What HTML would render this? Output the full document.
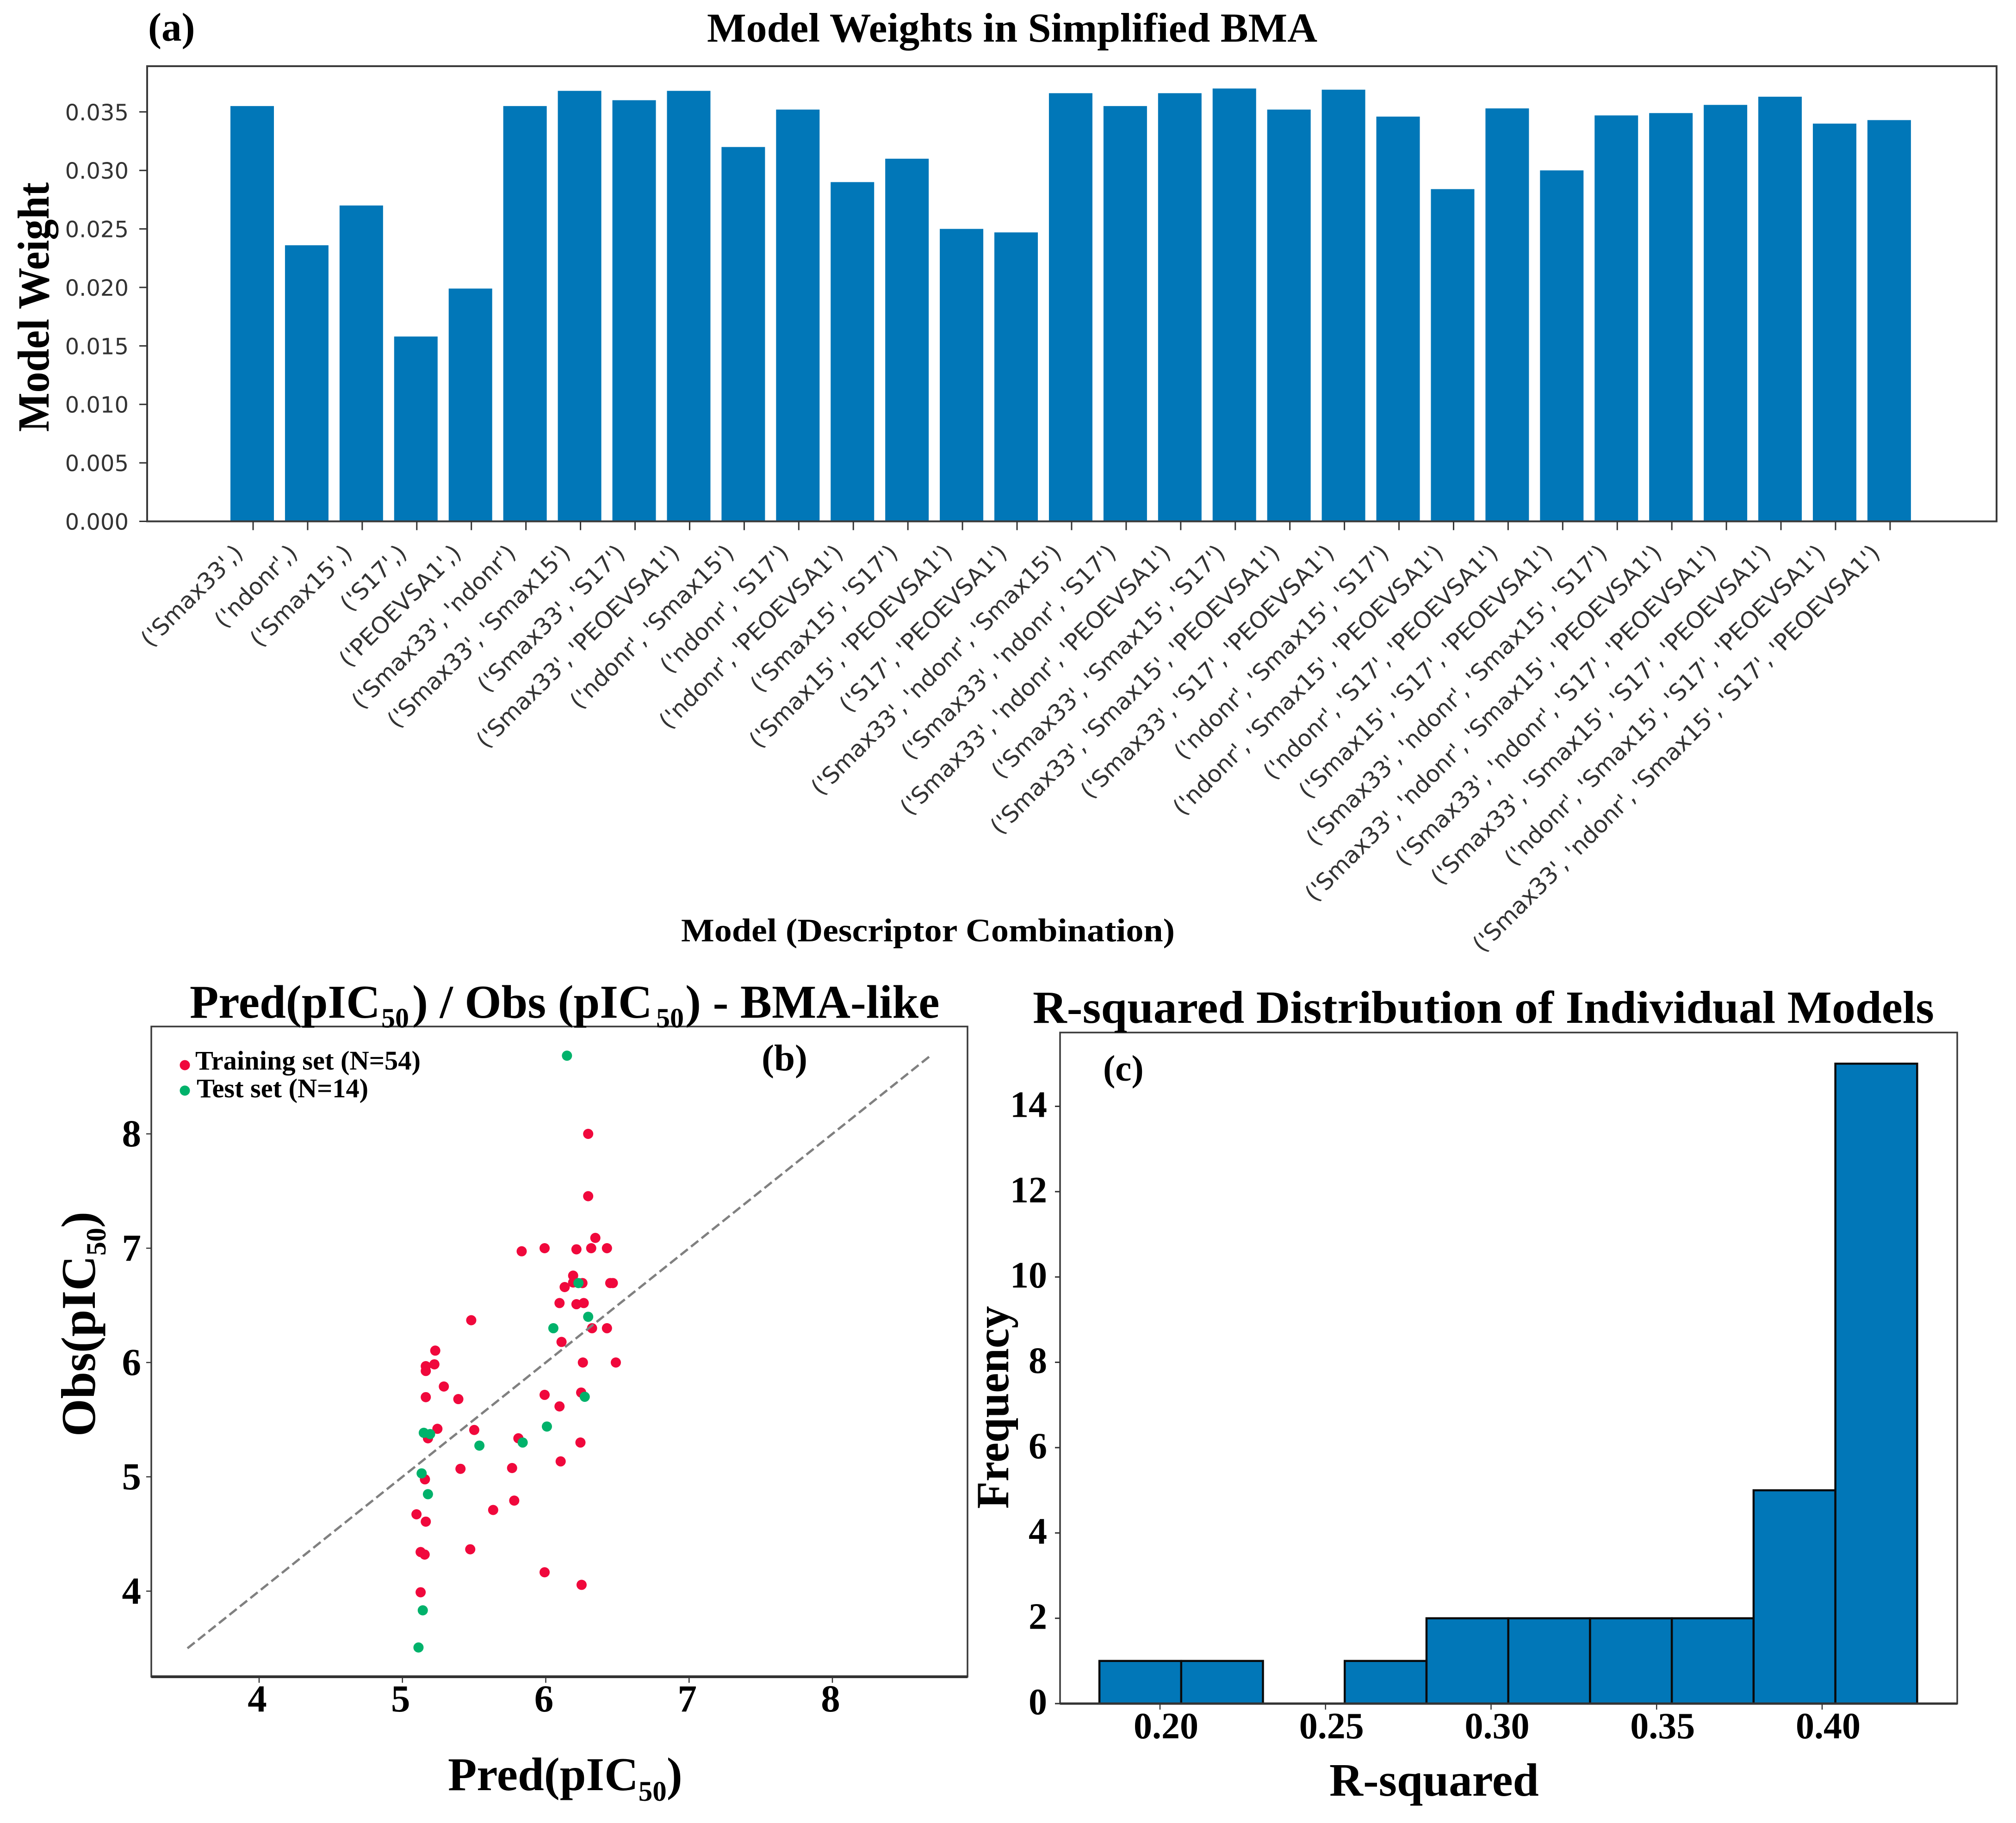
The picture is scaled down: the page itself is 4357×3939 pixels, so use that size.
<!DOCTYPE html>
<html lang="en">
<head>
<meta charset="utf-8">
<title>BMA model figure</title>
<style>
html,body{margin:0;padding:0;background:#fff}
svg{display:block}
.serif{font-family:"Liberation Serif",serif;font-weight:bold;fill:#000}
.dejavu{font-family:"DejaVu Sans",sans-serif;fill:#333}
</style>
</head>
<body>
<svg id="fig" xmlns="http://www.w3.org/2000/svg" width="4357" height="3939" viewBox="0 0 4357 3939">
  <rect x="0" y="0" width="4357" height="3939" fill="#fff"/>

  <g id="panelA"></g>
  <g id="panelB"></g>
  <g id="panelC"></g>

  <text class="serif" x="320" y="88" font-size="87">(a)</text>
  <text class="serif" x="1528" y="90" font-size="89" textLength="1319" lengthAdjust="spacingAndGlyphs">Model Weights in Simplified BMA</text>
  <text class="serif" transform="translate(105,933) rotate(-90)" font-size="96" textLength="539" lengthAdjust="spacingAndGlyphs">Model Weight</text>
  <text class="serif" x="1472" y="2034" font-size="71" textLength="1067" lengthAdjust="spacingAndGlyphs">Model (Descriptor Combination)</text>

  <text class="serif" y="2199" font-size="102"><tspan x="410">Pred(pIC</tspan><tspan x="824" y="2220" font-size="60">50</tspan><tspan x="891" y="2199">) / Obs (pIC</tspan><tspan x="1418" y="2220" font-size="60">50</tspan><tspan x="1481" y="2199">) - BMA-like</tspan></text>
  <text class="serif" x="1646" y="2313" font-size="81">(b)</text>
  <text class="serif" transform="translate(205,3104) rotate(-90)" font-size="105">Obs(pIC<tspan dy="23" font-size="60">50</tspan><tspan dy="-23">)</tspan></text>
  <text class="serif" x="968" y="3868" font-size="102">Pred(pIC<tspan dy="23" font-size="61">50</tspan><tspan dy="-23">)</tspan></text>
  <circle cx="399.5" cy="2301.5" r="11" fill="#f0083c"/>
  <text class="serif" x="422" y="2311" font-size="58" textLength="487" lengthAdjust="spacingAndGlyphs">Training set (N=54)</text>
  <circle cx="399.5" cy="2356.5" r="11" fill="#00b26b"/>
  <text class="serif" x="425" y="2371" font-size="58" textLength="371" lengthAdjust="spacingAndGlyphs">Test set (N=14)</text>

  <text class="serif" x="2232" y="2210" font-size="100" textLength="1948" lengthAdjust="spacingAndGlyphs">R-squared Distribution of Individual Models</text>
  <text class="serif" x="2384" y="2335" font-size="79">(c)</text>
  <text class="serif" transform="translate(2179,3260) rotate(-90)" font-size="100" textLength="438" lengthAdjust="spacingAndGlyphs">Frequency</text>
  <text class="serif" x="2873" y="3880" font-size="101">R-squared</text>
</svg>

<script>
// ---------- Panel (a) data ----------
var modelLabels = [
"('Smax33',)","('ndonr',)","('Smax15',)","('S17',)","('PEOEVSA1',)",
"('Smax33', 'ndonr')","('Smax33', 'Smax15')","('Smax33', 'S17')","('Smax33', 'PEOEVSA1')",
"('ndonr', 'Smax15')","('ndonr', 'S17')","('ndonr', 'PEOEVSA1')","('Smax15', 'S17')",
"('Smax15', 'PEOEVSA1')","('S17', 'PEOEVSA1')","('Smax33', 'ndonr', 'Smax15')",
"('Smax33', 'ndonr', 'S17')","('Smax33', 'ndonr', 'PEOEVSA1')","('Smax33', 'Smax15', 'S17')",
"('Smax33', 'Smax15', 'PEOEVSA1')","('Smax33', 'S17', 'PEOEVSA1')","('ndonr', 'Smax15', 'S17')",
"('ndonr', 'Smax15', 'PEOEVSA1')","('ndonr', 'S17', 'PEOEVSA1')","('Smax15', 'S17', 'PEOEVSA1')",
"('Smax33', 'ndonr', 'Smax15', 'S17')","('Smax33', 'ndonr', 'Smax15', 'PEOEVSA1')",
"('Smax33', 'ndonr', 'S17', 'PEOEVSA1')","('Smax33', 'Smax15', 'S17', 'PEOEVSA1')",
"('ndonr', 'Smax15', 'S17', 'PEOEVSA1')","('Smax33', 'ndonr', 'Smax15', 'S17', 'PEOEVSA1')"];
var modelWeights = [0.0355,0.0236,0.0270,0.0158,0.0199,0.0355,0.0368,0.0360,0.0368,0.0320,0.0352,
0.0290,0.0310,0.0250,0.0247,0.0366,0.0355,0.0366,0.0370,0.0352,0.0369,0.0346,0.0284,0.0353,
0.0300,0.0347,0.0349,0.0356,0.0363,0.0340,0.0343];
var weightTicks = ["0.000","0.005","0.010","0.015","0.020","0.025","0.030","0.035"];

// ---------- Panel (b) data ----------
var trainPred = [6.296,6.296,6.346,5.832,5.992,6.214,6.317,6.427,6.191,6.191,6.256,6.132,6.45,6.468,6.096,6.214,6.265,6.323,6.427,6.11,5.48,5.229,6.259,6.489,5.223,5.163,5.163,5.289,5.163,5.39,5.992,6.096,6.247,5.244,5.501,5.178,5.809,6.242,6.104,5.405,5.765,5.157,5.78,5.633,5.098,5.163,5.127,5.155,5.473,5.992,6.25,5.127];
var trainObs = [8.00,7.455,7.09,6.973,7.00,6.99,7.00,7.00,6.76,6.70,6.695,6.66,6.695,6.695,6.52,6.51,6.52,6.30,6.30,6.18,6.37,6.104,6.00,6.00,5.984,5.968,5.926,5.79,5.697,5.68,5.717,5.616,5.737,5.42,5.41,5.337,5.337,5.30,5.135,5.07,5.077,4.978,4.792,4.71,4.672,4.608,4.342,4.32,4.366,4.165,4.055,3.99];
var testPred = [6.148,6.228,6.296,6.053,6.272,6.008,5.149,5.193,5.839,5.537,5.134,5.178,5.142,5.112];
var testObs = [8.684,6.695,6.40,6.30,5.70,5.44,5.385,5.374,5.30,5.273,5.03,4.848,3.832,3.507];
var identityRange = [3.5,8.68];
var predTicks = ["4","5","6","7","8"];
var obsTicks = ["4","5","6","7","8"];

// ---------- Panel (c) data ----------
var histCounts = [1,1,0,1,2,2,2,2,5,15];
var histRange = [0.1817,0.4287];
var r2Ticks = ["0.20","0.25","0.30","0.35","0.40"];
var freqTicks = ["0","2","4","6","8","10","12","14"];

var NS = 'http://www.w3.org/2000/svg';
function mk(tag, geom, parent, txt){
  var el = document.createElementNS(NS, tag);
  for (var k in geom) el.setAttribute(k, geom[k]);
  if (txt !== undefined) el.textContent = txt;
  parent.appendChild(el);
  return el;
}

// ---------- Panel (a) ----------
(function(){
  var g = document.getElementById('panelA');
  var box = {l:318, r:4315, t:143, b:1126.5};
  function xA(i){ return 545 + i*117.93; }
  function yA(v){ return box.b - v*25277; }
  var barW = 94;
  modelWeights.forEach(function(v,i){
    var el = mk('rect',{x:xA(i)-barW/2,y:yA(v),width:barW,height:box.b-yA(v),fill:'#0177b8'},g);
    
    
  });
  var frame = mk('rect',{x:box.l,y:box.t,width:box.r-box.l,height:box.b-box.t,fill:'none',stroke:'#3a3a3a','stroke-width':4},g);
  
  
  weightTicks.forEach(function(t){
    var y = yA(parseFloat(t));
    var tk = mk('line',{x1:box.l-17,x2:box.l,y1:y,y2:y,stroke:'#333','stroke-width':3},g);
    
    
    var lb = mk('text',{x:278,y:y+18,'text-anchor':'end','font-size':48,'class':'dejavu'},g,t);
    
    
  });
  modelLabels.forEach(function(t,i){
    var x = xA(i);
    var tk = mk('line',{x1:x+2,x2:x+2,y1:box.b,y2:box.b+19,stroke:'#333','stroke-width':3},g);
    
    
    var ax = x-17, ay = 1198;
    var lb = mk('text',{x:ax,y:ay,'text-anchor':'end','font-size':50,'class':'dejavu',transform:'rotate(-45 '+ax+' '+ay+')'},g,t);
    
    
  });
})();

// ---------- Panel (b) ----------
(function(){
  var g = document.getElementById('panelB');
  var box = {l:327, r:2091, t:2218, b:3623};
  function xB(v){ return 560 + (v-4)*309.75; }
  function yB(v){ return 2450 + (8-v)*247; }
  var frame = mk('rect',{x:box.l,y:box.t,width:box.r-box.l,height:box.b-box.t,fill:'#fff',stroke:'#3a3a3a','stroke-width':3.5},g);
  
  
  var base = mk('line',{x1:box.l,x2:box.r,y1:box.b,y2:box.b,stroke:'#333','stroke-width':6},g);
  
  
  trainPred.forEach(function(v,i){
    var c = mk('circle',{cx:xB(v),cy:yB(trainObs[i]),r:11,fill:'#f0083c'},g);
    
    
  });
  var dl = mk('line',{x1:xB(identityRange[0]),y1:yB(identityRange[0]),x2:xB(identityRange[1]),y2:yB(identityRange[1]),stroke:'#808080','stroke-width':5,'stroke-dasharray':'20 9'},g);
  
  
  testPred.forEach(function(v,i){
    var c = mk('circle',{cx:xB(v),cy:yB(testObs[i]),r:11,fill:'#00b26b'},g);
    
    
  });
  predTicks.forEach(function(t){
    var x = xB(parseFloat(t));
    var tk = mk('line',{x1:x,x2:x,y1:box.b,y2:box.b+13,stroke:'#333','stroke-width':2.5},g);
    
    
    var lb = mk('text',{x:x-4,y:3698,'text-anchor':'middle','font-size':83,'class':'serif'},g,t);
    
    
  });
  obsTicks.forEach(function(t){
    var y = yB(parseFloat(t));
    var tk = mk('line',{x1:box.l-11,x2:box.l,y1:y,y2:y,stroke:'#333','stroke-width':2.5},g);
    
    
    var lb = mk('text',{x:305,y:y+27,'text-anchor':'end','font-size':83,'class':'serif'},g,t);
    
    
  });
})();

// ---------- Panel (c) ----------
(function(){
  var g = document.getElementById('panelC');
  var box = {l:2291, r:4230, t:2231, b:3681};
  function xC(v){ return 2507 + (v-0.2)*7155; }
  function yC(v){ return box.b - v*92.18; }
  var frame = mk('rect',{x:box.l,y:box.t,width:box.r-box.l,height:box.b-box.t,fill:'#fff',stroke:'#3a3a3a','stroke-width':3.5},g);
  
  
  var w = (histRange[1]-histRange[0])/histCounts.length;
  histCounts.forEach(function(c,i){
    if (c === 0) return;
    var x0 = xC(histRange[0]+i*w), x1 = xC(histRange[0]+(i+1)*w);
    var r = mk('rect',{x:x0,y:yC(c),width:x1-x0,height:box.b-yC(c),fill:'#0177b8',stroke:'#0a0a0a','stroke-width':4.5},g);
    
    
  });
  var base = mk('line',{x1:box.l,x2:box.r,y1:box.b,y2:box.b,stroke:'#333','stroke-width':5},g);
  
  
  r2Ticks.forEach(function(t){
    var x = xC(parseFloat(t));
    var tk = mk('line',{x1:x,x2:x,y1:box.b,y2:box.b+13,stroke:'#333','stroke-width':2.5},g);
    
    
    var lb = mk('text',{x:x+13,y:3756,'text-anchor':'middle','font-size':80,'class':'serif'},g,t);
    
    
  });
  freqTicks.forEach(function(t){
    var y = yC(parseFloat(t));
    var tk = mk('line',{x1:box.l-11,x2:box.l,y1:y,y2:y,stroke:'#333','stroke-width':3},g);
    
    
    var lb = mk('text',{x:2263,y:y+23,'text-anchor':'end','font-size':80,'class':'serif'},g,t);
    
    
  });
})();
</script>
</body>
</html>
